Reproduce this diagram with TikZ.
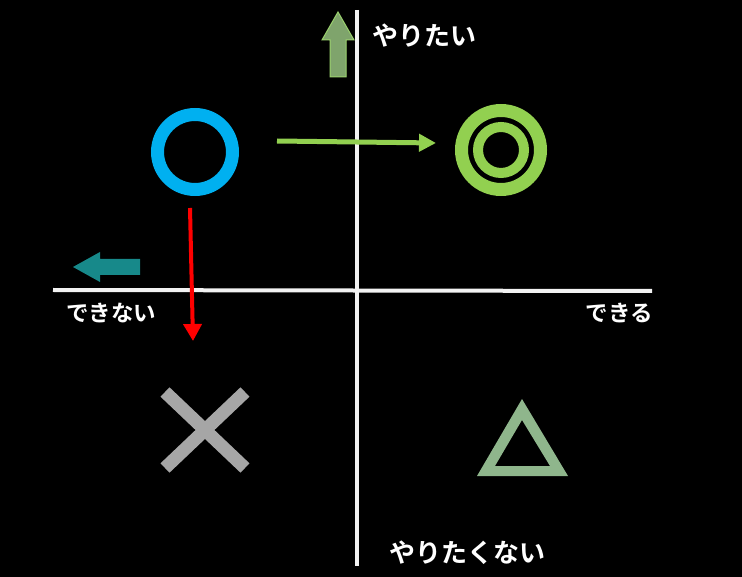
\documentclass[tikz,border=0pt]{standalone}
\usepackage{fontspec}
\newfontfamily\jp{Noto Sans CJK JP Bold}
\usetikzlibrary{arrows.meta}
\definecolor{ringblue}{HTML}{00B0F0}
\definecolor{lgreen}{HTML}{92D050}
\definecolor{upfill}{HTML}{7FA46C}
\definecolor{upedge}{HTML}{9BD26E}
\definecolor{teal2}{HTML}{17898A}
\definecolor{xgray}{HTML}{A6A6A6}
\definecolor{trigreen}{HTML}{8FB68C}
\definecolor{axisw}{HTML}{F2F2F2}
\begin{document}
\begin{tikzpicture}[x=1pt,y=-1pt,
  axis/.style={axisw,line width=4pt},
  lbl/.style={text=white,font=\jp\fontsize{26}{28}\selectfont,inner sep=0pt},
  slbl/.style={text=white,font=\jp\fontsize{22.5}{24}\selectfont,inner sep=0pt}]
\fill[black] (0,0) rectangle (742,577);
\useasboundingbox (0,0) rectangle (742,577);
% axes
\coordinate (vt) at (357,10);
\coordinate (vb) at (357,566);
\coordinate (hl) at (53,290);
\coordinate (hr) at (652,291);
\draw[axis] (vt) -- (vb);
\draw[axis] (hl) -- (hr);
% labels
\node[lbl,anchor=west] (want) at (372,36) {やりたい};
\node[lbl,anchor=west] (nowant) at (389,553) {やりたくない};
\node[slbl,anchor=west] (cannot) at (66,313) {できない};
\node[slbl,anchor=east] (can) at (653,313) {できる};
% up arrow
\fill[upfill,draw=upedge,line width=1pt] (330,77) -- (330,40) -- (322,40) -- (338,12) -- (354,40) -- (346,40) -- (346,77) -- cycle;
% blue ring
\node[circle,draw=ringblue,line width=13pt,minimum size=75pt,inner sep=0pt] (good) at (195,152) {};
% double ring
\node[circle,draw=lgreen,line width=13pt,minimum size=79pt,inner sep=0pt] (best) at (501,150) {};
\node[circle,draw=lgreen,line width=10pt,minimum size=46pt,inner sep=0pt] (bestin) at (501,150) {};
% green arrow
\coordinate (ga) at (277,141);
\coordinate (gb) at (436,143);
\draw[lgreen,line width=5pt,-{Triangle[length=17pt,width=17pt]}] (ga) -- (gb);
% red arrow
\coordinate (ra) at (190,208);
\coordinate (rb) at (193,341);
\draw[red,line width=4pt,-{Triangle[length=17pt,width=18pt]}] (ra) -- (rb);
% teal arrow
\fill[teal2] (140,259) -- (100,259) -- (100,252) -- (73,267) -- (100,282) -- (100,275) -- (140,275) -- cycle;
% cross
\coordinate (x1) at (165,392);
\coordinate (x2) at (245,468);
\coordinate (x3) at (245,392);
\coordinate (x4) at (165,468);
\draw[xgray,line width=13pt] (x1) -- (x2);
\draw[xgray,line width=13pt] (x3) -- (x4);
% triangle
\fill[trigreen,even odd rule] (522,399) -- (568,476) -- (477,476) -- cycle
  (522,420) -- (550,466) -- (495,466) -- cycle;
\end{tikzpicture}
\end{document}
